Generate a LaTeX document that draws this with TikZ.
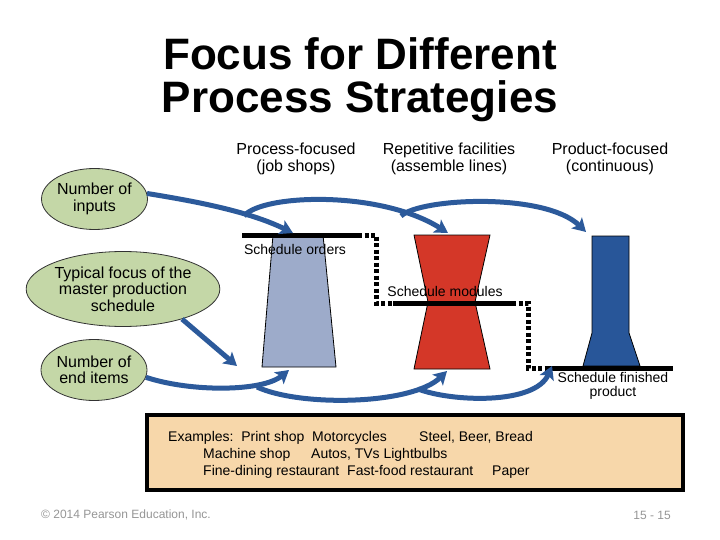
\documentclass[tikz,border=0pt]{standalone}
\usepackage{fontspec}
\setmainfont{Liberation Sans}
\usetikzlibrary{shapes.geometric,arrows.meta}
\definecolor{arrowblue}{RGB}{44,90,155}
\definecolor{ellgreen}{RGB}{196,215,167}
\definecolor{jobblue}{RGB}{157,171,202}
\definecolor{repred}{RGB}{212,55,40}
\definecolor{prodblue}{RGB}{40,86,153}
\definecolor{boxpeach}{RGB}{247,215,170}
\definecolor{footgray}{RGB}{150,150,150}
\begin{document}
\begin{tikzpicture}[x=1pt,y=-1pt,
  ell/.style={ellipse,draw=black!80,line width=0.8pt,fill=ellgreen,inner sep=0pt,align=center,font=\fontsize{16}{16.5}\selectfont},
  flow/.style={draw=arrowblue,line width=5pt,-{Stealth[length=13pt,width=15pt,inset=3pt]}},
  bar/.style={draw=black,line width=5pt},
  dotbar/.style={draw=black,line width=5pt,dash pattern=on 4pt off 2.5pt},
  shapeline/.style={draw=black,line width=0.8pt},
  head/.style={align=center,font=\fontsize{16}{16.5}\selectfont},
  sched/.style={align=center,font=\fontsize{14}{14.5}\selectfont},
  ex/.style={anchor=base west,inner sep=0pt,font=\fontsize{14}{14}\selectfont},
  foot/.style={text=footgray,font=\fontsize{12}{12}\selectfont,inner sep=0pt}
]
\useasboundingbox (0,0) rectangle (720,540);
\fill[white] (0,0) rectangle (720,540);

% title
\node[align=center,font=\fontsize{44}{43}\bfseries\selectfont] (title) at (360,80) {Focus for Different\\Process Strategies};

% headers
\node[head] (h1) at (296,159) {Process-focused\\(job shops)};
\node[head] (h2) at (449,159) {Repetitive facilities\\(assemble lines)};
\node[head] (h3) at (610,159) {Product-focused\\(continuous)};

% ellipses
\node[ell,minimum width=106pt,minimum height=61pt] (inp) at (94.5,199) {Number of\\inputs};
\node[ell,minimum width=189pt,minimum height=75pt] (typ) at (123,289) {Typical focus of the\\master production\\schedule};
\node[ell,minimum width=106pt,minimum height=61pt] (endi) at (94,370) {Number of\\end items};

% shapes
\path[shapeline,fill=jobblue] (273,235) -- (323,235) -- (336,367) -- (262,367) -- cycle;
\path[shapeline,fill=repred] (414,235) -- (490,235) -- (475,302) -- (490,369) -- (414,369) -- (428,302) -- cycle;
\path[shapeline,fill=prodblue] (592,236) -- (629,236) -- (629,333) -- (640,366) -- (583,366) -- (592,333) -- cycle;

% schedule bars
\coordinate (b1a) at (242,235);
\coordinate (b1b) at (358,235);
\coordinate (b2a) at (393,303);
\coordinate (b2b) at (512,303);
\coordinate (b3a) at (547,368);
\coordinate (b3b) at (673,368);
\draw[bar] (b1a) -- (b1b);
\draw[dotbar] (b1b) -- (376,235) -- (376,303) -- (b2a);
\draw[bar] (b2a) -- (b2b);
\draw[dotbar] (b2b) -- (528,303) -- (528,368) -- (b3a);
\draw[bar] (b3a) -- (b3b);

\node[sched] (s1) at (295,249) {Schedule orders};
\node[sched] (s2) at (445,291) {Schedule modules};
\node[sched] (s3) at (613,386) {Schedule finished\\product};

% arrow targets
\coordinate (tJobTop) at (293,233);
\coordinate (tRepTop) at (448,233);
\coordinate (tProdTop) at (586,232);
\coordinate (tJobBot) at (289,370);
\coordinate (tRepBot) at (447,371);
\coordinate (tProdBot) at (552,366);
\coordinate (tTyp) at (237,366);
\coordinate (sB) at (244,216);
\coordinate (sC) at (401,216);
\coordinate (sE) at (257,387);
\coordinate (sF) at (418,389);

\draw[flow] (inp.6) .. controls (200,202) and (250,212) .. (tJobTop);
\draw[flow] (sB) .. controls (262,194) and (380,190) .. (tRepTop);
\draw[flow] (sC) .. controls (420,198) and (545,192) .. (tProdTop);
\draw[flow] (typ.-27) -- (tTyp);
\draw[flow] (endi.-8) .. controls (190,392) and (262,392) .. (tJobBot);
\draw[flow] (sE) .. controls (300,407) and (412,405) .. (tRepBot);
\draw[flow] (sF) .. controls (452,402) and (535,405) .. (tProdBot);

% examples box
\node[draw=black,line width=4pt,fill=boxpeach,minimum width=536pt,minimum height=75pt,inner sep=0pt] (exbox) at (415,452.5) {};
\node[ex] (e1a) at (168,441) {Examples:\ \ Print shop};
\node[ex] (e1b) at (312,441) {Motorcycles};
\node[ex] (e1c) at (419,441) {Steel, Beer, Bread};
\node[ex] (e2a) at (203,458) {Machine shop};
\node[ex] (e2b) at (311,458) {Autos, TVs Lightbulbs};
\node[ex] (e3a) at (203,475) {Fine-dining restaurant};
\node[ex] (e3b) at (347,475) {Fast-food restaurant};
\node[ex] (e3c) at (492,475) {Paper};

% footer
\node[foot,anchor=west] (copy) at (41,515) {© 2014 Pearson Education, Inc.};
\node[foot,anchor=east] (pg) at (671,515) {15 - 15};
\end{tikzpicture}
\end{document}
